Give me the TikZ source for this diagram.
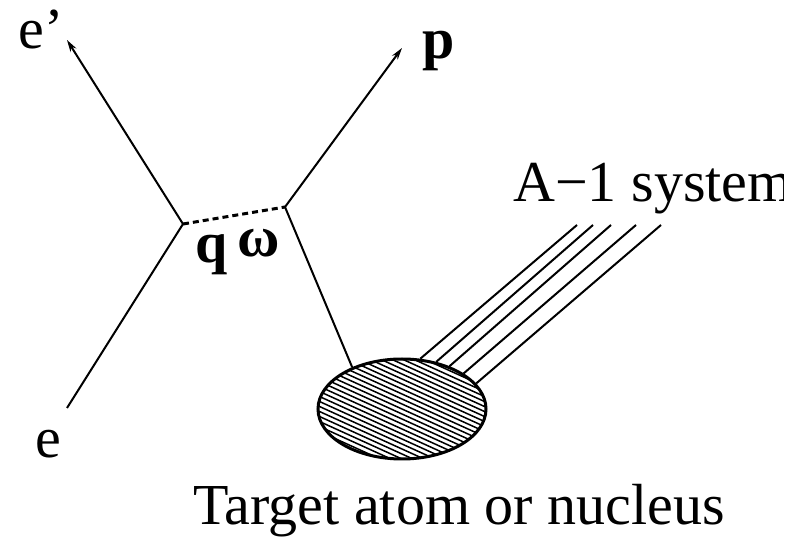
\documentclass[tikz,border=0pt]{standalone}
\usepackage{fontspec}
\setmainfont{Liberation Serif}
\usetikzlibrary{arrows.meta, shapes.geometric}

\begin{document}
\begin{tikzpicture}[x=0.5pt,y=-0.5pt,>={Stealth[length=6pt,width=3.4pt]},
    lbl/.style={font=\fontsize{29}{34}\selectfont, inner sep=0pt, anchor=base west},
    leg/.style={line width=1pt},
    blob/.style={ellipse, draw, line width=1.5pt, minimum width=84pt,
      minimum height=50pt, inner sep=0pt,
      path picture={\foreach \k in {-17,...,17}
        \draw[line width=0.75pt, shift={(path picture bounding box.center)}]
          (-110,\k*5-50) -- ++(220,100);}}]
  \useasboundingbox (0,0) rectangle (804,539);
  % vertices
  \coordinate (v1) at (183,224);
  \coordinate (v2) at (285,207);
  \coordinate (ein) at (67,408);
  \coordinate (eout) at (67,40);
  \coordinate (pout) at (402,48);
  % target
  \node[blob] (target) at (402,409) {};
  % electron
  \draw[leg] (ein) -- (v1);
  \draw[leg,->] (v1) -- (eout);
  % exchanged photon
  \draw[line width=1.5pt, dash pattern=on 3pt off 2pt] (v1) -- (v2);
  % knocked-out proton
  \draw[leg] (v2) -- (target.140);
  \draw[leg,->] (v2) -- (pout);
  % residual system
  \foreach \ang/\xe [count=\i] in {70/577,54/593,42/611,30/636,19/661}{
    \coordinate (r\i) at (\xe,225);
    \draw[leg] (target.\ang) -- (r\i);
  }
  % labels
  \node[lbl] (eoutlab) at (18,49) {e'};
  \node[lbl] (einlab) at (35,458) {e};
  \node[lbl] (plab) at (422,59) {\textbf{p}};
  \node[lbl] (qlab) at (195,263) {\textbf{q}};
  \node[lbl] (wlab) at (237,257) {\textbf{ω}};
  \begin{scope}
    \clip (0,0) rectangle (783,539);
    \node[lbl] (syslab) at (513,202) {A−1 system};
  \end{scope}
  \node[lbl] (targetlab) at (193,525) {Target atom or nucleus};
\end{tikzpicture}
\end{document}
